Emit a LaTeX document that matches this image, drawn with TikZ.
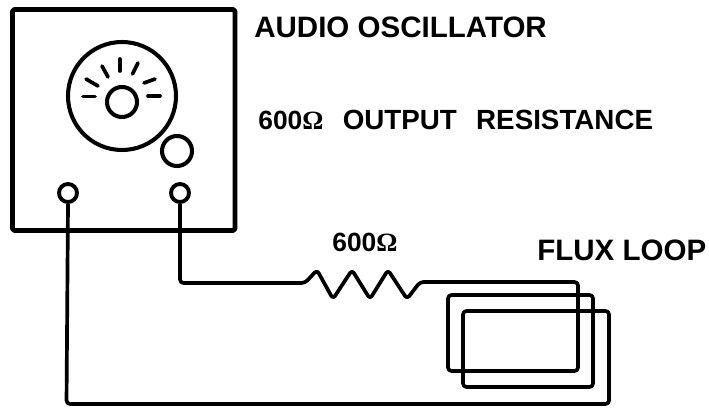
\documentclass[tikz,border=0pt]{standalone}
\usepackage{fontspec}
\setmainfont{Liberation Sans}
\newfontfamily\ohmfont{Liberation Serif}
\newcommand{\ohm}{{\ohmfont\char"03A9}}
\tikzset{
  heavy/.style={line width=2.3pt,line join=round},
  wire/.style={line width=2.1pt,rounded corners=2pt,line join=round},
  tick/.style={line width=2.1pt,line cap=round},
  terminal/.style={circle,draw,line width=2.2pt,minimum size=18*0.02cm,inner sep=0pt},
  caption/.style={anchor=base west,inner sep=0pt,font=\bfseries\fontsize{16.8}{18}\selectfont},
  value/.style={anchor=base west,inner sep=0pt,font=\bfseries\fontsize{15}{18}\selectfont}
}
\begin{document}
\begin{tikzpicture}[x=0.02cm,y=-0.02cm]
\useasboundingbox (0,0) rectangle (709,408);
\coordinate[] (A) at (12.5,9.5);
\coordinate[] (B) at (235,230.5);
\coordinate[] (D) at (122,96);
\coordinate[] (K) at (122,102);
\coordinate[] (S) at (177,151);
\draw[heavy,line width=2.7pt,rounded corners=1pt] (A) rectangle (B);
\draw[heavy] (D) circle (54);
\draw[heavy] (K) circle (15);
\draw[heavy] (S) circle (15);
% dial marks
\draw[tick] (83,96.5)--(95,96.5);
\draw[tick] (86,79)--(98,86);
\draw[tick] (102,66)--(108,77);
\draw[tick] (119.7,59)--(119.7,71);
\draw[tick] (138,63)--(132.5,74);
\draw[tick] (144,83)--(155,79);
\draw[tick] (148,96)--(160,96);
% terminals
\node[terminal] (T1) at (68,193) {};
\node[terminal] (T2) at (180,193) {};
% resistor and loop
\coordinate[] (R1) at (180,283);
\coordinate[] (R2) at (305,283);
\coordinate[] (R3) at (420,282);
\coordinate[] (L1) at (578,282);
\coordinate[] (L2) at (578,371);
\coordinate[] (L3) at (448,371);
\coordinate[] (L4) at (448,295);
\coordinate[] (L5) at (593,295);
\coordinate[] (L6) at (593,387);
\coordinate[] (L7) at (463,387);
\coordinate[] (L8) at (463,311);
\coordinate[] (L9) at (609,311);
\coordinate[] (L10) at (609,404);
\coordinate[] (R4) at (66.5,404);
\draw[wire] (T2.south) -- (R1) -- (R2) -- (317,270) -- (333,299) -- (352,270) -- (370,299) -- (388,270) -- (407,299) -- (R3)
  -- (L1) -- (L2) -- (L3) -- (L4) -- (L5) -- (L6) -- (L7) -- (L8) -- (L9) -- (L10) -- (R4) -- (T1.south);
% labels
\node[caption] (osc) at (254,38) {AUDIO OSCILLATOR};
\node[value] (res) at (258,130) {600\ohm\hspace{11pt}\fontsize{15.8}{18}\selectfont OUTPUT\hspace{11pt}RESISTANCE};
\node[value] (val) at (332,252) {600\ohm};
\node[caption] (flux) at (537,260) {FLUX LOOP};
\end{tikzpicture}
\end{document}
